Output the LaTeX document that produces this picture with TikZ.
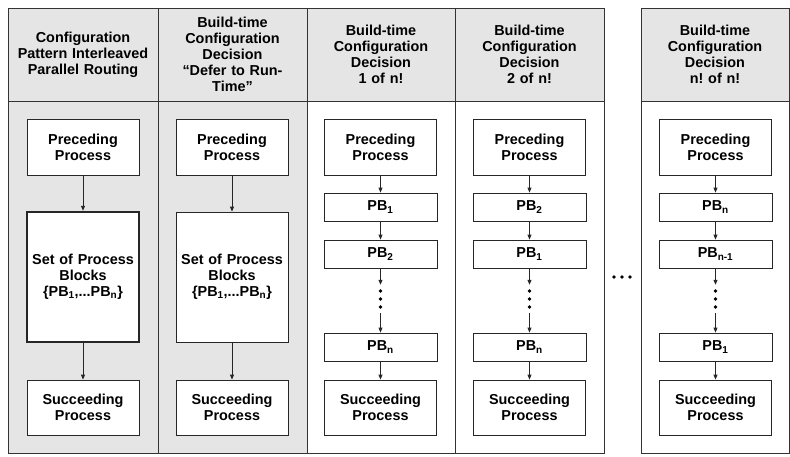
\documentclass[tikz,border=0pt]{standalone}
\usepackage{fontspec}
\setmainfont{Liberation Sans}
\usepackage{tikz}
\usetikzlibrary{arrows.meta, positioning}

\newcommand{\boxfont}{\fontsize{14.4}{16}\selectfont\bfseries}
\frenchspacing

\tikzset{
  frame/.style={draw=black!80, line width=0.9pt},
  proc/.style={draw=black!85, fill=white, line width=0.8pt, inner xsep=4pt,
    text width=104pt, align=center, font=\boxfont},
  prebox/.style={proc, minimum height=56pt},
  setbox/.style={proc, minimum height=130pt},
  pbbox/.style={proc, text width=105pt, minimum height=28pt, inner ysep=0pt},
  headtxt/.style={align=center, text width=140pt, font=\boxfont},
  flow/.style={draw=black!85, line width=0.8pt, -{Triangle[length=5pt,width=4pt]}},
  dotsnode/.style={inner sep=0pt, minimum width=4pt, minimum height=28pt},
}

\begin{document}
\begin{tikzpicture}[x=1pt, y=-1pt]
  \useasboundingbox (0,0) rectangle (790,456);

  % shading
  \fill[black!10] (8,8) rectangle (604,101);
  \fill[black!10] (641,8) rectangle (789,101);
  \fill[black!10] (8,101) rectangle (307,453);

  % outer frames
  \draw[frame] (8,8) rectangle (604,453);
  \draw[frame] (641,8) rectangle (789,453);
  \draw[frame] (8,101) -- (604,101);
  \draw[frame] (641,101) -- (789,101);

  % column separators
  \foreach \x in {158,307,455}{
    \draw[frame] (\x,8) -- (\x,453);
  }

  %---- HEADERS ----
  \node[headtxt] (h1) at (83,54.5) {Configuration\\Pattern Interleaved\\Parallel Routing};
  \node[headtxt] (h2) at (232.5,54.5) {Build-time\\Configuration\\Decision\\“Defer to Run-\\Time”};
  \node[headtxt] (h3) at (381,54.5) {Build-time\\Configuration\\Decision\\1 of n!};
  \node[headtxt] (h4) at (529.5,54.5) {Build-time\\Configuration\\Decision\\2 of n!};
  \node[headtxt] (h5) at (715,54.5) {Build-time\\Configuration\\Decision\\n! of n!};

  % colonna 1: pattern
  \node[prebox] (pre1) at (83,147) {Preceding\\Process};
  \node[setbox, line width=2.4pt] (set1) at (83,277) {Set of Process\\Blocks\\\{PB\textsubscript{1},...PB\textsubscript{n}\}};
  \node[prebox, minimum height=55pt] (suc1) at (83,407.5) {Succeeding\\Process};
  \draw[flow] (pre1) -- (set1);
  \draw[flow] (set1) -- (suc1);

  % colonna 2: defer to run-time
  \node[prebox] (pre2) at (232,147) {Preceding\\Process};
  \node[setbox] (set2) at (232,277) {Set of Process\\Blocks\\\{PB\textsubscript{1},...PB\textsubscript{n}\}};
  \node[prebox, minimum height=55pt] (suc2) at (232,407.5) {Succeeding\\Process};
  \draw[flow] (pre2) -- (set2);
  \draw[flow] (set2) -- (suc2);

  % colonne 3-5: one ordering each
  \foreach \c/\x/\a/\b/\z in {3/380.5/1/2/n, 4/529.5/2/1/n, 5/715.5/n/{n-1}/1}{
    \node[prebox] (pre\c) at (\x,147) {Preceding\\Process};
    \node[pbbox] (pa\c) at (\x,207) {PB\textsubscript{\a}};
    \node[pbbox] (pb\c) at (\x,254) {PB\textsubscript{\b}};
    \node[dotsnode] (d\c) at (\x,299) {};
    \node[pbbox] (pz\c) at (\x,347) {PB\textsubscript{\z}};
    \node[prebox, minimum height=55pt] (suc\c) at (\x,407.5) {Succeeding\\Process};
    \foreach \dy in {-8,0,8}{
      \fill[black] (d\c.center) ++(0,\dy) circle (1.8pt);
    }
    \draw[flow] (pre\c) -- (pa\c);
    \draw[flow] (pa\c) -- (pb\c);
    \draw[flow] (pb\c) -- (d\c);
    \draw[flow] (d\c) -- (pz\c);
    \draw[flow] (pz\c) -- (suc\c);
  }

  % more columns
  \node[inner sep=0pt, minimum width=20pt] (more) at (622,277) {};
  \foreach \dx in {-8,0,8}{
    \fill[black] (more.center) ++(\dx,0) circle (1.8pt);
  }
\end{tikzpicture}
\end{document}
